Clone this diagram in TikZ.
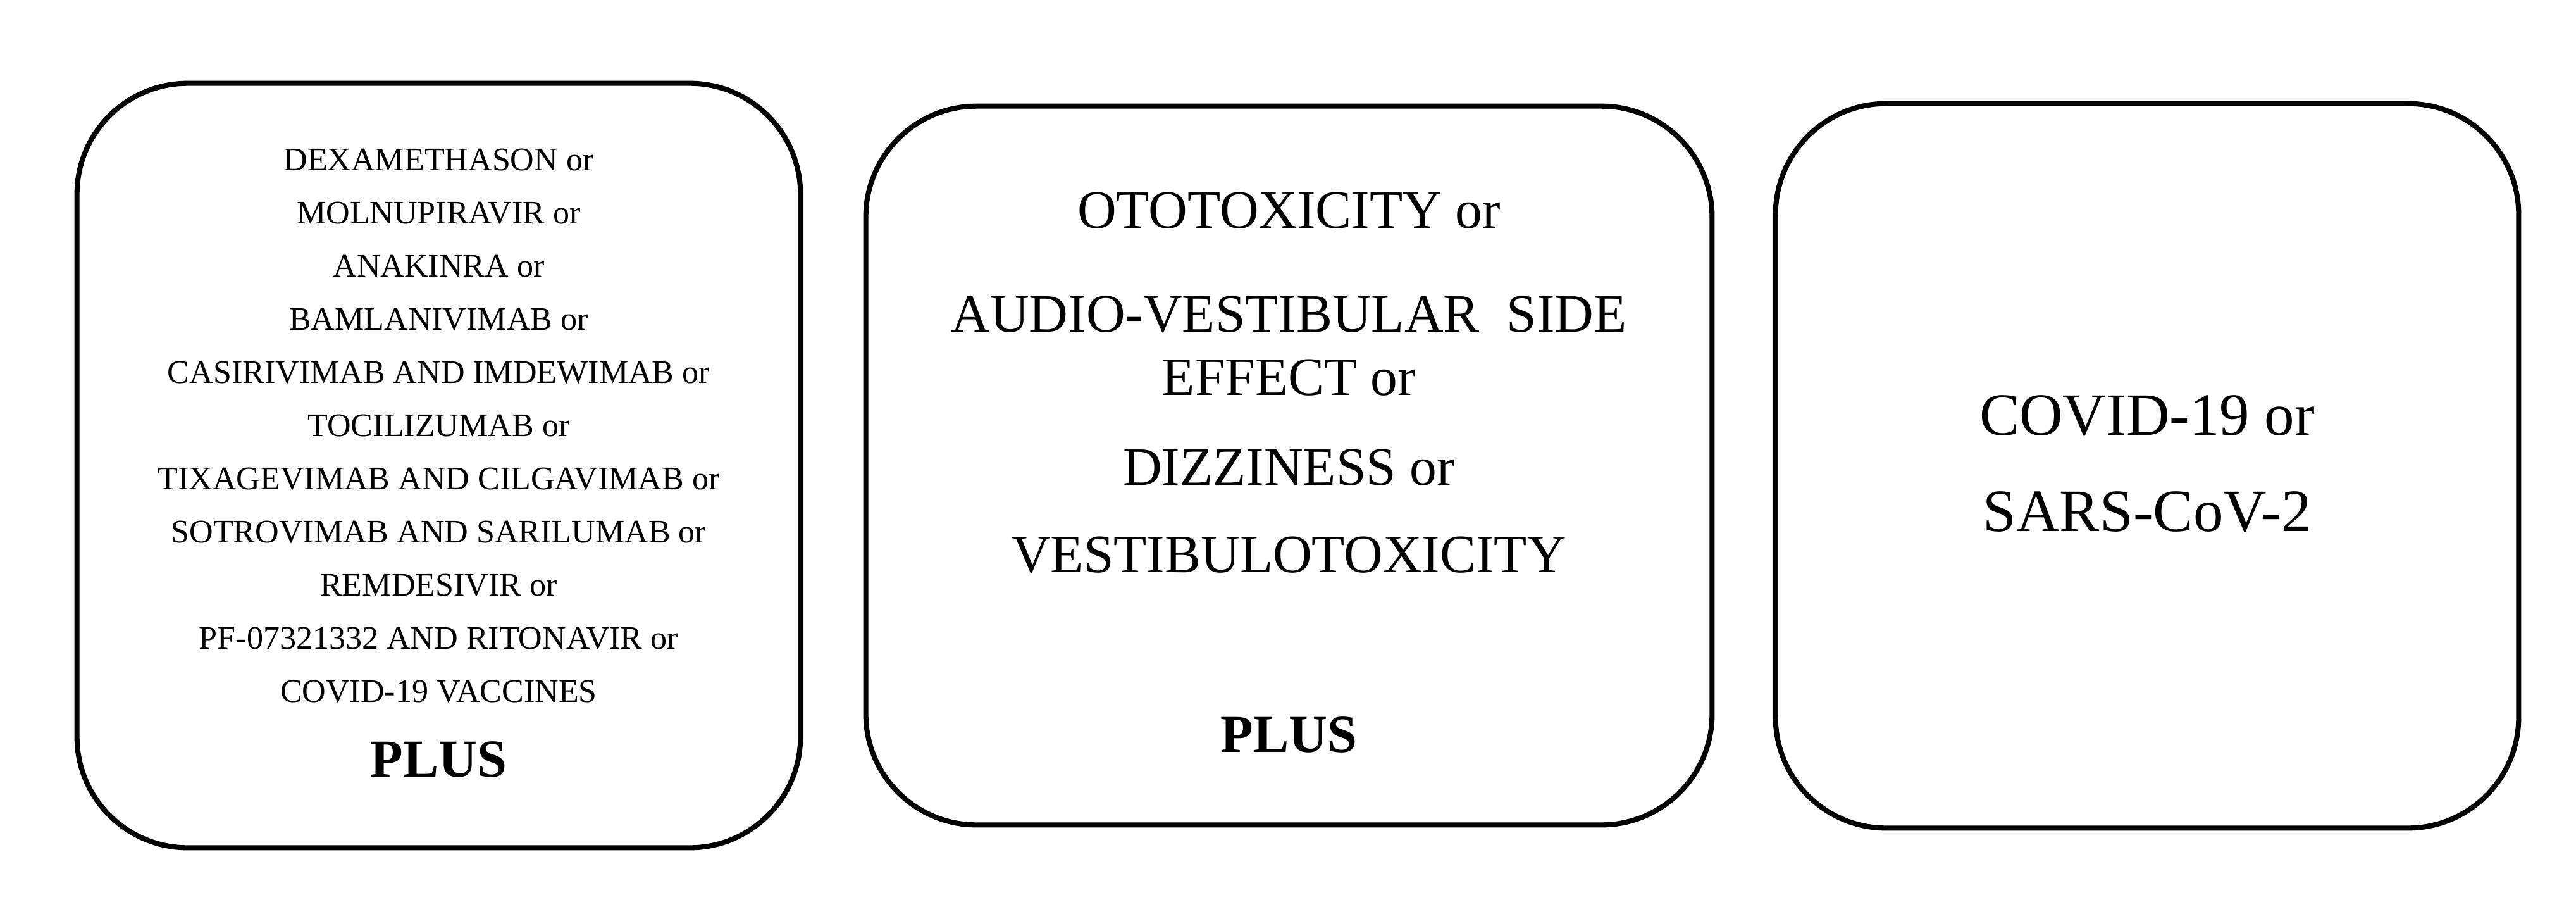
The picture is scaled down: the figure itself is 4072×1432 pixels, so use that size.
\documentclass[tikz,border=0pt]{standalone}
\usepackage{fontspec}
\setmainfont{Liberation Serif}
\tikzset{
  roundbox/.style={draw=black, line width=2.3pt, rounded corners=1.75cm, inner sep=0pt},
  smalltext/.style={font=\fontsize{14.8}{23.9}\selectfont},
  midtext/.style={anchor=base, font=\fontsize{24.3}{28.45}\selectfont},
  bigtext/.style={anchor=base, font=\fontsize{27}{30}\selectfont},
  plusword/.style={anchor=base, font=\fontsize{24}{27}\selectfont\bfseries},
}
\begin{document}
\begin{tikzpicture}[x=0.01cm,y=-0.01cm]
\useasboundingbox (0,0) rectangle (4072,1432);
% the three search blocks
\node[roundbox, minimum width=11.43cm, minimum height=12.07cm] (drugs) at (693.5,735.5) {};
\node[roundbox, minimum width=13.37cm, minimum height=11.35cm] (effects) at (2037.5,735.5) {};
\node[roundbox, minimum width=11.74cm, minimum height=11.44cm] (virus) at (3394,736) {};
% drugs
\node[smalltext, anchor=north, inner sep=0pt, align=center] (druglist) at (693.5,234) {DEXAMETHASON or\\
  MOLNUPIRAVIR or\\
  ANAKINRA or\\
  BAMLANIVIMAB or\\
  CASIRIVIMAB AND IMDEWIMAB or\\
  TOCILIZUMAB or\\
  TIXAGEVIMAB AND CILGAVIMAB or\\
  SOTROVIMAB AND SARILUMAB or\\
  REMDESIVIR or\\
  PF-07321332 AND RITONAVIR or\\
  COVID-19 VACCINES};
\node[plusword] (plusone) at (693.5,1227) {PLUS};
% side effects
\node[midtext] (ototox) at (2037.5,360) {OTOTOXICITY or};
\node[midtext, anchor=north, inner sep=0pt, align=center] (audio) at (2037.5,467) {AUDIO-VESTIBULAR~~SIDE\\ EFFECT or};
\node[midtext] (dizzy) at (2037.5,766) {DIZZINESS or};
\node[midtext] (vestib) at (2037.5,904) {VESTIBULOTOXICITY};
\node[plusword] (plustwo) at (2037.5,1188) {PLUS};
% disease
\node[bigtext] (covid) at (3394,687) {COVID-19 or};
\node[bigtext] (sars) at (3394,839) {SARS-CoV-2};
\end{tikzpicture}
\end{document}
